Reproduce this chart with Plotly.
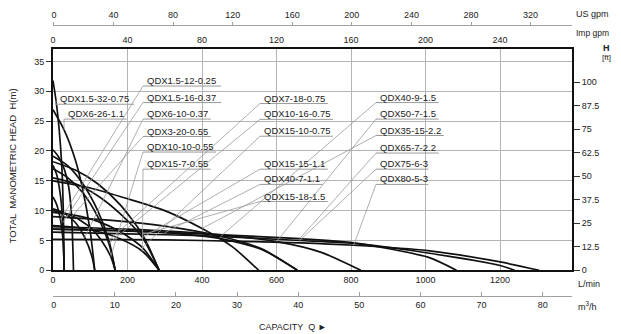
import plotly.graph_objects as go

# ---- performance curves: flow (L/min) and total head (m) for each model ----
Q_1_5_32 = [0, 8, 16, 24, 28, 30]
H_1_5_32 = [31.8, 28.5, 24.0, 17.0, 9.0, 0]
Q_6_26 = [0, 30, 60, 80, 100, 112]
H_6_26 = [26.9, 23.5, 18.5, 13.5, 6.5, 0]
Q_1_5_12 = [0, 10, 20, 27, 30]
H_1_5_12 = [12.3, 11.0, 8.5, 5.0, 0]
Q_1_5_16 = [0, 10, 20, 26, 30]
H_1_5_16 = [17.6, 16.0, 12.5, 8.0, 0]
Q_6_10 = [0, 30, 60, 85, 105, 112]
H_6_10 = [10.3, 9.6, 8.0, 5.5, 2.2, 0]
Q_3_20 = [0, 15, 30, 42, 50, 55]
H_3_20 = [20.2, 19.0, 17.0, 14.0, 9.0, 0]
Q_10_10 = [0, 50, 100, 130, 155, 167]
H_10_10 = [10.0, 9.2, 7.2, 5.0, 2.3, 0]
Q_15_7 = [0, 60, 120, 180, 240, 285]
H_15_7 = [7.5, 7.2, 6.5, 5.3, 3.2, 0]
Q_7_18 = [0, 40, 80, 120, 150, 167]
H_7_18 = [19.1, 17.5, 14.5, 10.0, 5.0, 0]
Q_10_16 = [0, 40, 80, 120, 150, 167]
H_10_16 = [17.0, 15.5, 13.0, 9.0, 4.5, 0]
Q_15_10 = [0, 60, 120, 180, 240, 285]
H_15_10 = [9.7, 9.2, 8.2, 6.5, 3.8, 0]
Q_15_15 = [0, 60, 120, 180, 240, 285]
H_15_15 = [15.5, 14.5, 12.5, 9.5, 5.5, 0]
Q_40_7 = [0, 150, 300, 450, 560, 656]
H_40_7 = [6.9, 6.7, 6.3, 5.3, 3.5, 0]
Q_15_18 = [0, 60, 120, 180, 240, 285]
H_15_18 = [18.2, 16.8, 14.5, 11.0, 6.0, 0]
Q_40_9 = [0, 150, 300, 450, 560, 656]
H_40_9 = [9.0, 8.4, 7.4, 5.7, 3.6, 0]
Q_50_7 = [0, 200, 400, 600, 720, 826]
H_50_7 = [7.3, 6.9, 6.2, 4.8, 3.0, 0]
Q_35_15 = [0, 100, 200, 300, 400, 480, 552]
H_35_15 = [15.0, 13.8, 12.0, 10.0, 7.0, 4.0, 0]
Q_65_7 = [0, 200, 400, 662, 807, 1006, 1083]
H_65_7 = [6.9, 6.6, 6.1, 5.3, 4.6, 2.2, 0]
Q_75_6 = [0, 200, 400, 662, 807, 1006, 1200, 1239]
H_75_6 = [6.4, 6.1, 5.8, 5.0, 4.5, 2.9, 0.8, 0]
Q_80_5 = [0, 200, 400, 662, 807, 1006, 1200, 1305]
H_80_5 = [5.2, 5.15, 5.0, 4.6, 4.2, 3.3, 1.4, 0]

MODELS = [
    ("QDX1.5-32-0.75", Q_1_5_32, H_1_5_32),
    ("QDX6-26-1.1", Q_6_26, H_6_26),
    ("QDX1.5-12-0.25", Q_1_5_12, H_1_5_12),
    ("QDX1.5-16-0.37", Q_1_5_16, H_1_5_16),
    ("QDX6-10-0.37", Q_6_10, H_6_10),
    ("QDX3-20-0.55", Q_3_20, H_3_20),
    ("QDX10-10-0.55", Q_10_10, H_10_10),
    ("QDX15-7-0.55", Q_15_7, H_15_7),
    ("QDX7-18-0.75", Q_7_18, H_7_18),
    ("QDX10-16-0.75", Q_10_16, H_10_16),
    ("QDX15-10-0.75", Q_15_10, H_15_10),
    ("QDX15-15-1.1", Q_15_15, H_15_15),
    ("QDX40-7-1.1", Q_40_7, H_40_7),
    ("QDX15-18-1.5", Q_15_18, H_15_18),
    ("QDX40-9-1.5", Q_40_9, H_40_9),
    ("QDX50-7-1.5", Q_50_7, H_50_7),
    ("QDX35-15-2.2", Q_35_15, H_35_15),
    ("QDX65-7-2.2", Q_65_7, H_65_7),
    ("QDX75-6-3", Q_75_6, H_75_6),
    ("QDX80-5-3", Q_80_5, H_80_5),
]

# axis ticks
LMIN_TICKS = [0, 200, 400, 600, 800, 1000, 1200]
M_TICKS = [0, 5, 10, 15, 20, 25, 30, 35]
FT_TICKS = [0, 12.5, 25, 37.5, 50, 62.5, 75, 87.5, 100]
IMP_TICKS = [0, 40, 80, 120, 160, 200, 240]
US_TICKS = [0, 40, 80, 120, 160, 200, 240, 280, 320]
M3H_TICKS = [0, 10, 20, 30, 40, 50, 60, 70, 80]

# ---- page geometry (pixels) ----
W, HGT = 621, 334
ML, MR, MT, MB = 53, 49, 10, 34
PW = W - ML - MR
PH = HGT - MT - MB
PLOT_TOP, PLOT_BOT = 46, 270


def px_x(x):
    return (x - ML) / PW


def px_y(y):
    return (HGT - MB - y) / PH


X_RANGE = [0, 1393]
Y_RANGE = [0, 37.15]

# label placement: text left edge / vertical centre (px) and curve point the leader points to
LABEL_POS = {
    "QDX1.5-32-0.75": (58, 96.7, 1),
    "QDX6-26-1.1": (66, 111.7, 1),
    "QDX1.5-12-0.25": (145, 78.3, 2),
    "QDX1.5-16-0.37": (145, 95, 3),
    "QDX6-10-0.37": (145, 111.7, 3),
    "QDX3-20-0.55": (145, 129.3, 4),
    "QDX10-10-0.55": (145, 145, 4),
    "QDX15-7-0.55": (145, 162.3, 4),
    "QDX7-18-0.75": (262, 96, 4),
    "QDX10-16-0.75": (262, 112, 4),
    "QDX15-10-0.75": (262, 129, 4),
    "QDX15-15-1.1": (262, 162.3, 4),
    "QDX40-7-1.1": (262, 177.7, 2),
    "QDX15-18-1.5": (262, 195, 4),
    "QDX40-9-1.5": (378, 95, 3),
    "QDX50-7-1.5": (378, 111.7, 3),
    "QDX35-15-2.2": (378, 128.3, 4),
    "QDX65-7-2.2": (378, 146, 3),
    "QDX75-6-3": (378, 162.3, 3),
    "QDX80-5-3": (378, 177.7, 4),
}

FONT = "Liberation Sans, Arial, sans-serif"
TXT = "#222222"
GRID = "#b4b4b4"
LEAD = "#9a9a9a"

fig = go.Figure()

for name, q, h in MODELS:
    fig.add_trace(go.Scatter(
        x=q, y=h, mode="lines", name=name, showlegend=False,
        line=dict(color="#111111", width=1.7, shape="spline", smoothing=0.7),
        hoverinfo="name",
    ))

# carriers for the secondary scales
fig.add_trace(go.Scatter(x=[None], y=[None], xaxis="x2", yaxis="y", showlegend=False))
fig.add_trace(go.Scatter(x=[None], y=[None], xaxis="x3", yaxis="y", showlegend=False))
fig.add_trace(go.Scatter(x=[None], y=[None], xaxis="x4", yaxis="y", showlegend=False))
fig.add_trace(go.Scatter(x=[None], y=[None], xaxis="x", yaxis="y2", showlegend=False))

shapes = []
annotations = []


def data_x(x):
    return X_RANGE[0] + (x - ML) / PW * (X_RANGE[1] - X_RANGE[0])


def data_y(y):
    return Y_RANGE[0] + (PLOT_BOT - y) / (PLOT_BOT - PLOT_TOP) * (Y_RANGE[1] - Y_RANGE[0])


curve_of = {name: (q, h) for name, q, h in MODELS}
for name, (lx, ly, idx) in LABEL_POS.items():
    annotations.append(dict(
        x=data_x(lx), y=data_y(ly), xref="x", yref="y", text=name, showarrow=False,
        xanchor="left", yanchor="middle", font=dict(family=FONT, size=9.5, color=TXT),
    ))
    uy = data_y(ly + 5.5)
    ux0 = data_x(lx - 2)
    ux1 = data_x(lx + len(name) * 5.15 + 4)
    shapes.append(dict(type="line", xref="x", yref="y", x0=ux0, x1=ux1, y0=uy, y1=uy,
                       line=dict(color=LEAD, width=1)))
    q, h = curve_of[name]
    shapes.append(dict(type="line", xref="x", yref="y", x0=ux0, y0=uy, x1=q[idx], y1=h[idx],
                       line=dict(color=LEAD, width=0.8)))

side_font = dict(family=FONT, size=9, color=TXT)
annotations += [
    dict(x=px_x(574), y=px_y(11), xref="paper", yref="paper", text="US gpm", showarrow=False,
         xanchor="left", yanchor="middle", font=side_font),
    dict(x=px_x(574), y=px_y(30), xref="paper", yref="paper", text="Imp gpm", showarrow=False,
         xanchor="left", yanchor="middle", font=dict(family=FONT, size=8.5, color=TXT)),
    dict(x=px_x(606), y=px_y(45), xref="paper", yref="paper", text="<b>H</b>", showarrow=False,
         xanchor="center", yanchor="middle", font=side_font),
    dict(x=px_x(606), y=px_y(55), xref="paper", yref="paper", text="[ft]", showarrow=False,
         xanchor="center", yanchor="middle", font=dict(family=FONT, size=8, color=TXT)),
    dict(x=px_x(576), y=px_y(284), xref="paper", yref="paper", text="L/min", showarrow=False,
         xanchor="left", yanchor="middle", font=side_font),
    dict(x=px_x(576), y=px_y(306), xref="paper", yref="paper", text="m<sup>3</sup>/h", showarrow=False,
         xanchor="left", yanchor="middle", font=side_font),
    dict(x=px_x(293), y=px_y(327), xref="paper", yref="paper", text="CAPACITY  Q ►", showarrow=False,
         xanchor="center", yanchor="middle", font=dict(family=FONT, size=9, color=TXT)),
    dict(x=px_x(12), y=px_y(165), xref="paper", yref="paper", text="TOTAL  MANOMETRIC HEAD  H(m)",
         showarrow=False, textangle=-90, xanchor="center", yanchor="middle",
         font=dict(family=FONT, size=9.5, color=TXT)),
]

y_dom = [px_y(PLOT_BOT), px_y(PLOT_TOP)]
tick_font = dict(family=FONT, size=9, color=TXT)

fig.update_layout(
    width=W, height=HGT, margin=dict(l=ML, r=MR, t=MT, b=MB),
    paper_bgcolor="white", plot_bgcolor="white",
    shapes=shapes, annotations=annotations,
    xaxis=dict(range=X_RANGE, tickvals=LMIN_TICKS, showgrid=True, gridcolor=GRID, gridwidth=1,
               zeroline=False, showline=True, linecolor="#111", linewidth=2, ticks="",
               tickfont=tick_font, anchor="y", mirror=False),
    xaxis2=dict(range=[X_RANGE[0] / 5, X_RANGE[1] / 5], tickvals=IMP_TICKS, overlaying="x", side="top",
                anchor="y", showgrid=False, zeroline=False, showline=True, linecolor="#111",
                linewidth=1.5, ticks="", tickfont=tick_font),
    xaxis3=dict(range=[-0.6, 347.8], tickvals=US_TICKS, overlaying="x", side="top", anchor="free",
                position=px_y(21.8), showgrid=False, zeroline=False, showline=True,
                linecolor="#a0a0a0", linewidth=1, ticks="outside", ticklen=3, tickcolor="#a0a0a0",
                tickfont=tick_font),
    xaxis4=dict(range=[-0.115, 84.8], tickvals=M3H_TICKS, overlaying="x", side="bottom", anchor="free",
                position=px_y(295.7), showgrid=False, zeroline=False, showline=True,
                linecolor="#a0a0a0", linewidth=1, ticks="inside", ticklen=4, tickcolor="#a0a0a0",
                tickfont=tick_font),
    yaxis=dict(range=Y_RANGE, domain=y_dom, tickvals=M_TICKS, showgrid=True, gridcolor=GRID,
               zeroline=False, showline=True, linecolor="#111", linewidth=2, ticks="outside",
               ticklen=5, tickcolor="#333", tickfont=tick_font),
    yaxis2=dict(range=[0, 117.9], tickvals=FT_TICKS, overlaying="y", side="right", anchor="x",
                showgrid=False, zeroline=False, showline=True, linecolor="#111", linewidth=2,
                ticks="outside", ticklen=6, tickcolor="#333", tickfont=tick_font),
)

fig.write_html("out.html")
